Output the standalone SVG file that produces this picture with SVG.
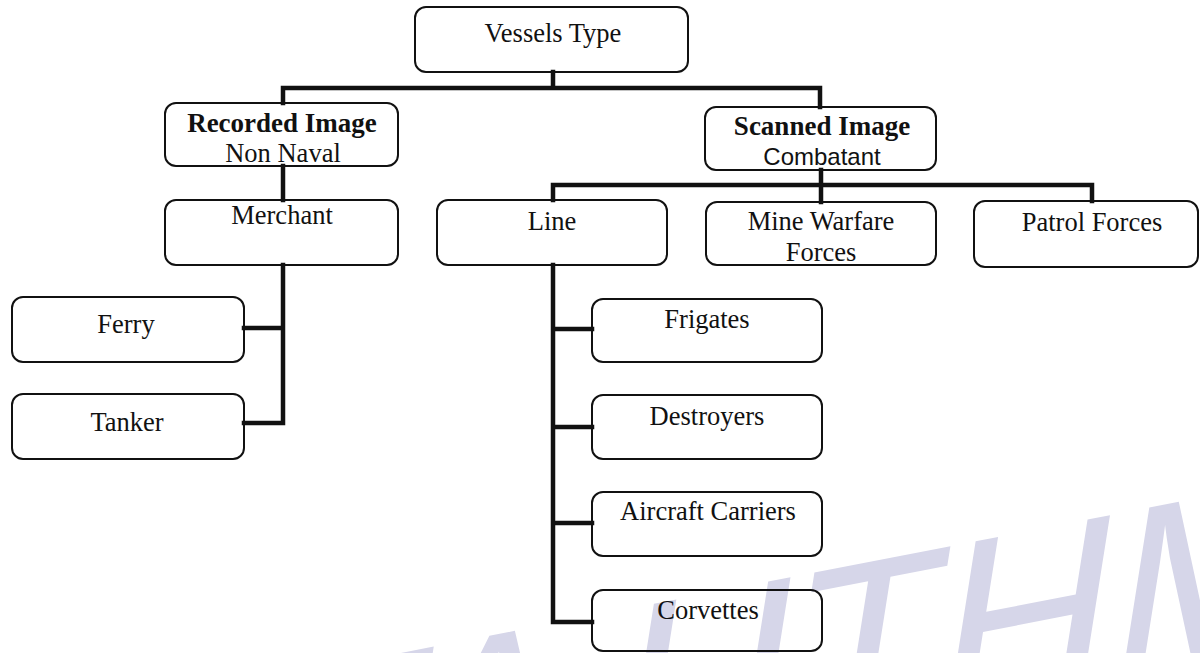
<svg xmlns="http://www.w3.org/2000/svg" width="1200" height="653" viewBox="0 0 1200 653">
<style>
.box{fill:none;stroke:#111;stroke-width:2}
.t{font-family:"Liberation Serif","Times New Roman",serif;font-size:26.5px;fill:#111;text-anchor:middle}
.b{font-weight:bold;font-size:27px}
.s{font-family:"Liberation Sans",Arial,sans-serif;font-size:24px}
.c{fill:none;stroke:#111;stroke-width:4.5;stroke-linecap:square}
.wm{font-family:"Liberation Sans",Arial,sans-serif;font-size:245px;fill:#d6d6e9}
</style>
<rect width="1200" height="653" fill="#fff"/>
<text class="wm" transform="translate(-43,911) rotate(-11) skewX(-20)">PTTA UTHM</text>
<g id="connectors">
<path class="c" d="M553,72 V88 M283,103 V88 H820 V107"/>
<path class="c" d="M283,166 V200"/>
<path class="c" d="M283,265 V423 H244 M283,328 H244"/>
<path class="c" d="M821,170 V202 M553,200 V185 H1092 V201"/>
<path class="c" d="M553,265 V622 H592 M553,329 H592 M553,427 H592 M553,523 H592"/>
</g>
<g id="vessels-type"><rect class="box" x="415" y="7" width="273" height="65" rx="11"/><text class="t" x="553" y="42">Vessels Type</text></g>
<g id="recorded-image"><rect class="box" x="165" y="103" width="233" height="63" rx="11"/><text class="t b" x="282" y="132">Recorded Image</text><text class="t" x="283" y="162">Non Naval</text></g>
<g id="scanned-image"><rect class="box" x="705" y="107" width="231" height="63" rx="11"/><text class="t b" x="822" y="135">Scanned Image</text><text class="t s" x="822" y="165">Combatant</text></g>
<g id="merchant"><rect class="box" x="165" y="200" width="233" height="65" rx="11"/><text class="t" x="282" y="224">Merchant</text></g>
<g id="line"><rect class="box" x="437" y="200" width="230" height="65" rx="11"/><text class="t" x="552" y="230">Line</text></g>
<g id="mine-warfare"><rect class="box" x="706" y="202" width="230" height="63" rx="11"/><text class="t" x="821" y="230">Mine Warfare</text><text class="t" x="821" y="261">Forces</text></g>
<g id="patrol-forces"><rect class="box" x="974" y="201" width="224" height="66" rx="11"/><text class="t" x="1092" y="231">Patrol Forces</text></g>
<g id="ferry"><rect class="box" x="12" y="297" width="232" height="65" rx="11"/><text class="t" x="126" y="333">Ferry</text></g>
<g id="tanker"><rect class="box" x="12" y="394" width="232" height="65" rx="11"/><text class="t" x="127" y="431">Tanker</text></g>
<g id="frigates"><rect class="box" x="592" y="299" width="230" height="63" rx="11"/><text class="t" x="707" y="328">Frigates</text></g>
<g id="destroyers"><rect class="box" x="592" y="395" width="230" height="64" rx="11"/><text class="t" x="707" y="425">Destroyers</text></g>
<g id="aircraft-carriers"><rect class="box" x="592" y="492" width="230" height="64" rx="11"/><text class="t" x="708" y="520">Aircraft Carriers</text></g>
<g id="corvettes"><rect class="box" x="592" y="590" width="230" height="61" rx="11"/><text class="t" x="708" y="619">Corvettes</text></g>
</svg>
